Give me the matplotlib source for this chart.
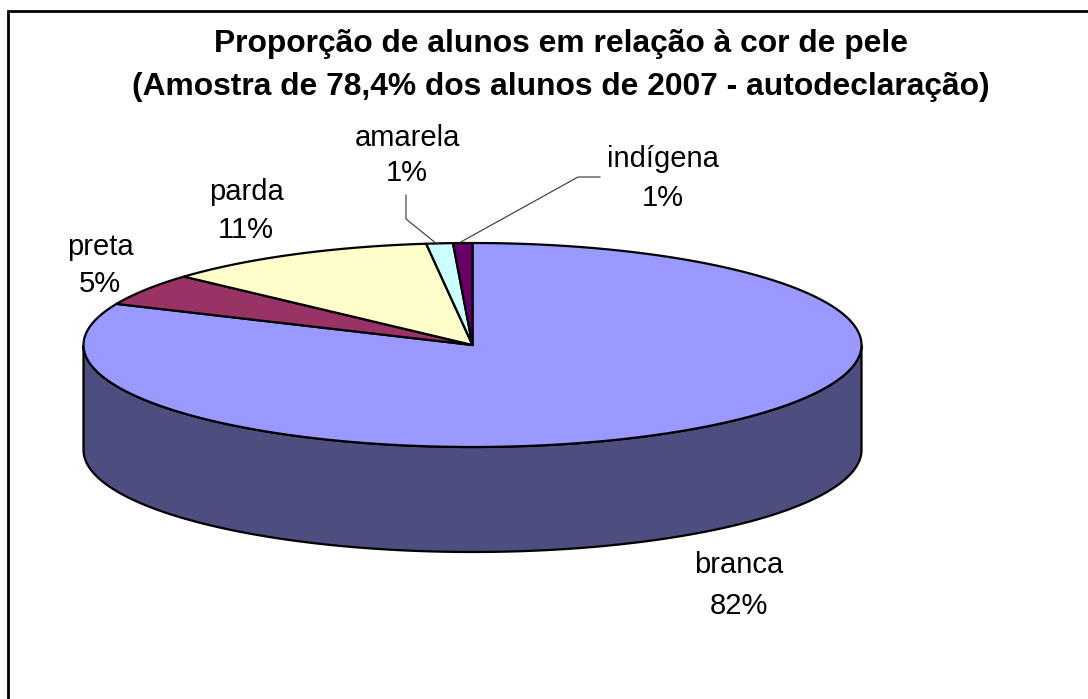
import numpy as np
import matplotlib
matplotlib.use('Agg')
import matplotlib.pyplot as plt
from matplotlib.patches import Polygon

plt.rcParams['font.family'] = ['Liberation Sans', 'DejaVu Sans']

# data
categories = ['branca', 'preta', 'parda', 'amarela', 'indígena']
values = [81.6, 5.1, 11.4, 1.1, 0.8]
colors = ['#9999FF', '#993366', '#FFFFCC', '#CCFFFF', '#660066']
side_color = '#4D4D80'
title_lines = ['Proporção de alunos em relação à cor de pele',
               '(Amostra de 78,4% dos alunos de 2007 - autodeclaração)']

# pie geometry, in pixels of the picture
cx, cy = 472.5, 345
rx, ry = 389, 102
depth = 105

# label centres (name line and percent line)
label_pos = {'branca': (739, 565, 606), 'preta': (100, 247, 284), 'parda': (246, 192, 230),
             'amarela': (407, 138, 173), 'indígena': (663, 159, 198)}


def ellipse_pts(t0, t1, dy=0):
    # angles in degrees, clockwise from the top of the ellipse
    t = np.radians(np.linspace(t0, t1, 200))
    return np.column_stack([cx + rx * np.sin(t), cy - ry * np.cos(t) + dy])


fig = plt.figure(figsize=(10.88, 6.99), dpi=100)
ax = fig.add_axes([0, 0, 1, 1])
ax.set_xlim(0, 1088)
ax.set_ylim(699, 0)
ax.axis('off')

# chart frame, only top and left show in the picture
ax.plot([8, 8, 1088], [699, 11, 11], color='black', lw=2, solid_joinstyle='miter')

# side wall of the pie
front = ellipse_pts(90, 270)
back = ellipse_pts(270, 90, depth)
ax.add_patch(Polygon(np.vstack([front, back]), closed=True, fc=side_color, ec='black', lw=1.6, zorder=2))

# top slices
shares = np.array(values) / sum(values) * 360
starts = np.concatenate([[0], np.cumsum(shares)[:-1]])
for start, share, col in zip(starts, shares, colors):
    pts = np.vstack([[cx, cy], ellipse_pts(start, start + share)])
    ax.add_patch(Polygon(pts, closed=True, fc=col, ec='black', lw=1.6, joinstyle='round', zorder=3))

# leader lines
ax.plot([406, 406, 437], [195, 219, 244], color='#333333', lw=0.8, zorder=4)
ax.plot([600, 578, 459], [177, 177, 243], color='#333333', lw=0.8, zorder=4)

# labels
total = sum(values)
for name, val in zip(categories, values):
    x, y1, y2 = label_pos[name]
    ax.text(x, y1, name, fontsize=21, ha='center', va='center', color='black')
    ax.text(x, y2, f'{val / total * 100:.0f}%', fontsize=21, ha='center', va='center', color='black')

# title
ax.text(561, 44, title_lines[0], fontsize=22.9, fontweight='bold', ha='center', va='center')
ax.text(561, 87, title_lines[1], fontsize=22.9, fontweight='bold', ha='center', va='center')

fig.savefig('out.png', dpi=100)
